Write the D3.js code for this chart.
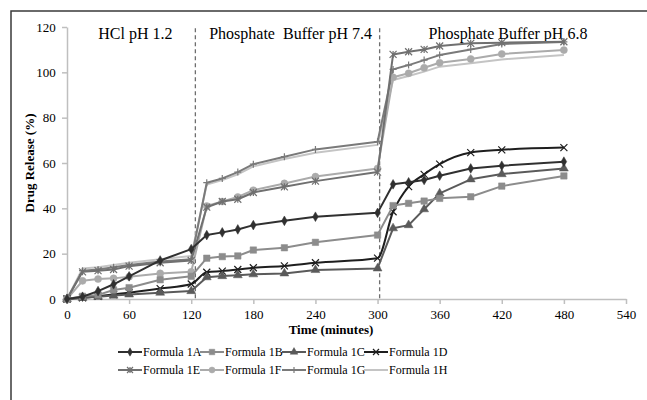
<!DOCTYPE html>
<html>
<head>
    <title>Drug release profiles</title>
    <style type="text/css">
      body {
          margin: 0;
          background: #ffffff;
      }
      svg text {
          font-family: "Liberation Serif", "DejaVu Serif", serif;
          fill: #000;
      }
      .axis path, .axis line {
          stroke: #bfbfbf;
          stroke-width: 1.5px;
      }
      .series {
          fill: none;
          stroke-width: 2px;
          stroke-linejoin: round;
      }
    </style>
</head>
<body>
    <div id="chart"></div>
    <script src="https://d3js.org/d3.v7.min.js"></script>
    <script>

      //  Sampling times (minutes)
      var time = [0, 15, 30, 45, 60, 90, 120, 135, 150, 165, 180, 210, 240, 300, 315, 330, 345, 360, 390, 420, 480];

      //  Cumulative drug release (%) per formula
      var f1A = [0, 1, 3.5, 6.5, 10, 17, 22, 28.2, 29.4, 30.7, 32.6, 34.5, 36.3, 38, 50.6, 51.5, 52.5, 54.4, 57.6, 58.8, 60.6];
      var f1B = [0, 1.2, 1.8, 4, 5, 8.5, 10, 18, 18.7, 19, 21.6, 22.6, 25, 28.2, 41.2, 42.2, 43.2, 44.4, 45.1, 49.8, 54.3];
      var f1C = [0, 0.5, 1, 1.5, 2, 2.8, 3.5, 9.6, 10.1, 10.5, 10.9, 11.3, 12.8, 13.5, 31.2, 32.6, 39.6, 46.6, 52.8, 55.1, 57.6];
      var f1D = [0, 0.5, 1.2, 2, 2.8, 4.6, 6.6, 11.8, 12.3, 13, 13.8, 14.6, 16, 18, 38.5, 49.6, 55, 59.5, 64.6, 65.8, 66.8];
      var f1E = [0, 12, 12.5, 13, 14.5, 16, 17, 40.5, 43, 44, 47, 49.5, 52, 56, 107.9, 109.1, 110.1, 111.6, 112.8, 113.1, 113.5];
      var f1F = [0, 8, 8.8, 9.1, 9.8, 11.3, 12, 41, 43, 45, 48, 51, 54, 57.6, 97.8, 99.6, 102, 104.2, 105.9, 108.1, 109.8];
      var f1G = [0, 12.5, 13, 14, 15, 16.5, 17.5, 51.3, 53.2, 56, 59.5, 62.8, 66, 69.4, 101.3, 103.2, 105.4, 107.6, 110.1, 112.5, 113.4];
      var f1H = [0, 13.5, 14, 15, 16, 17.5, 19, 50.5, 52.5, 55, 58.5, 61.8, 64.5, 68, 96.6, 98.4, 100.3, 102.5, 104, 105.7, 107.6];

      var seriesNames = ["Formula 1A", "Formula 1B", "Formula 1C", "Formula 1D",
                         "Formula 1E", "Formula 1F", "Formula 1G", "Formula 1H"];

      //  Axis ticks and the medium change points
      var xTicks = [0, 60, 120, 180, 240, 300, 360, 420, 480, 540];
      var yTicks = [0, 20, 40, 60, 80, 100, 120];
      var phaseLines = [124, 302];
      var phaseLabels = ["HCl pH 1.2", "Phosphate  Buffer pH 7.4", "Phosphate Buffer pH 6.8"];
      var phaseLabelAt = [66, 216, 426];

      var width = 647,
          height = 400,
          margin = {top: 27, right: 21, bottom: 101, left: 67};

      var styles = [
        {color: "#303030", marker: "diamond"},
        {color: "#8c8c8c", marker: "square"},
        {color: "#5a5a5a", marker: "triangle"},
        {color: "#1e1e1e", marker: "cross"},
        {color: "#707070", marker: "star"},
        {color: "#ababab", marker: "circle"},
        {color: "#7a7a7a", marker: "plus"},
        {color: "#c4c4c4", marker: "none"}
      ];

      var allSeries = [f1A, f1B, f1C, f1D, f1E, f1F, f1G, f1H];

      var svg = d3.select("#chart")
                  .append("svg")
                  .attr("width", width)
                  .attr("height", height);

      //  Outer frame (cut off at the right and bottom in the original)
      svg.append("path")
         .attr("d", "M11," + (height + 5) + "V11H" + (width + 5))
         .attr("fill", "none")
         .attr("stroke", "#3a3a3a")
         .attr("stroke-width", 1.5);

      var x = d3.scaleLinear().domain([0, 540]).range([margin.left, width - margin.right]);
      var y = d3.scaleLinear().domain([0, 120]).range([height - margin.bottom, margin.top]);

      //  Axes
      var xAxis = svg.append("g")
         .attr("class", "axis")
         .attr("transform", "translate(0," + y(0) + ")")
         .call(d3.axisBottom(x).tickValues(xTicks).tickSize(5).tickSizeOuter(0));
      xAxis.selectAll("text").attr("dy", "0.95em");

      var yAxis = svg.append("g")
         .attr("class", "axis")
         .attr("transform", "translate(" + x(0) + ",0)")
         .call(d3.axisLeft(y).tickValues(yTicks).tickSize(5).tickSizeOuter(0));
      yAxis.selectAll("text").attr("dx", "-0.25em");

      svg.selectAll(".axis")
         .attr("font-family", null)
         .attr("font-size", null);
      svg.selectAll(".axis text")
         .attr("fill", "#000")
         .style("font-size", "13px");

      //  Axis titles
      svg.append("text")
         .attr("x", 331)
         .attr("y", 334)
         .attr("text-anchor", "middle")
         .style("font-size", "13px")
         .style("font-weight", "bold")
         .text("Time (minutes)");

      svg.append("text")
         .attr("transform", "translate(34," + y(60) + ") rotate(-90)")
         .attr("text-anchor", "middle")
         .style("font-size", "13px")
         .style("font-weight", "bold")
         .text("Drug Release (%)");

      //  Dashed lines where the dissolution medium changes
      svg.selectAll(".phase-line")
         .data(phaseLines)
         .enter().append("line")
         .attr("class", "phase-line")
         .attr("x1", function (d) { return x(d); })
         .attr("x2", function (d) { return x(d); })
         .attr("y1", y(119.5))
         .attr("y2", y(0))
         .attr("stroke", "#6e6e6e")
         .attr("stroke-width", 1.3)
         .attr("stroke-dasharray", "4,3");

      svg.selectAll(".phase-label")
         .data(phaseLabels)
         .enter().append("text")
         .attr("class", "phase-label")
         .attr("x", function (d, i) { return x(phaseLabelAt[i]); })
         .attr("y", 39)
         .attr("text-anchor", "middle")
         .style("font-size", "16px")
         .style("white-space", "pre")
         .text(function (d) { return d; });

      //  Marker drawing
      function markerPath(type, s) {
        var h = s / 2;
        switch (type) {
          case "diamond": return d3.symbol().type(d3.symbolDiamond).size(s * s * 0.55)();
          case "square": return d3.symbol().type(d3.symbolSquare).size(s * s * 0.85)();
          case "triangle": return d3.symbol().type(d3.symbolTriangle).size(s * s * 0.7)();
          case "circle": return d3.symbol().type(d3.symbolCircle).size(s * s * 0.8)();
          case "cross": return "M" + -h + "," + -h + "L" + h + "," + h + "M" + -h + "," + h + "L" + h + "," + -h;
          case "star": return "M" + -h + "," + -h + "L" + h + "," + h + "M" + -h + "," + h + "L" + h + "," + -h + "M0," + -h + "V" + h;
          case "plus": return "M0," + -h + "V" + h + "M" + -h + ",0H" + h;
        }
        return "";
      }

      function drawMarker(g, style, cx, cy, s) {
        if (style.marker === "none") return;
        var open = (style.marker === "cross" || style.marker === "star" || style.marker === "plus");
        g.append("path")
         .attr("d", markerPath(style.marker, s))
         .attr("transform", "translate(" + cx + "," + cy + ")")
         .attr("fill", open ? "none" : style.color)
         .attr("stroke", style.color)
         .attr("stroke-width", open ? 1.2 : 0.5);
      }

      //  Series lines, back to front
      var plot = svg.append("g");
      for (var k = allSeries.length - 1; k >= 0; k--) {
        var vals = allSeries[k];
        var pts = time.map(function (t, i) { return [t, vals[i]]; });
        var line = d3.line()
                     .x(function (d) { return x(d[0]); })
                     .y(function (d) { return y(d[1]); })
                     .curve(k === 3 ? d3.curveMonotoneX : d3.curveLinear);
        var g = plot.append("g");
        g.append("path")
         .datum(pts)
         .attr("class", "series")
         .attr("stroke", styles[k].color)
         .attr("d", line);
        pts.forEach(function (p) {
          drawMarker(g, styles[k], x(p[0]), y(p[1]), 7);
        });
      }

      //  Legend, two rows of four
      var legend = svg.append("g");
      var legendX = [118, 200, 282, 364],
          legendY = [352, 370];
      seriesNames.forEach(function (name, i) {
        var lx = legendX[i % 4],
            ly = legendY[Math.floor(i / 4)];
        legend.append("line")
              .attr("x1", lx).attr("x2", lx + 24)
              .attr("y1", ly).attr("y2", ly)
              .attr("stroke", styles[i].color)
              .attr("stroke-width", 2);
        drawMarker(legend, styles[i], lx + 12, ly, 6);
        legend.append("text")
              .attr("x", lx + 25)
              .attr("y", ly + 4)
              .style("font-size", "12px")
              .text(name);
      });
    </script>
</body>
</html>
